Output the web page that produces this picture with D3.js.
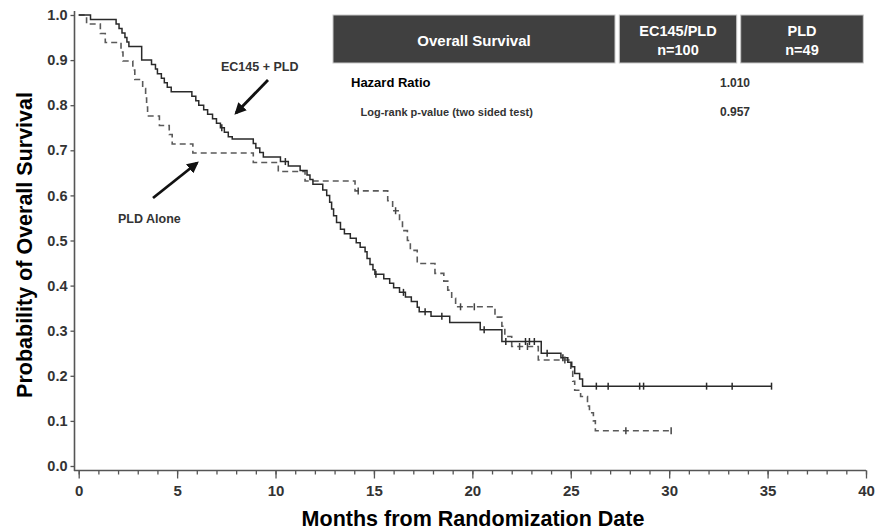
<!DOCTYPE html>
<html><head><meta charset="utf-8">
<script src="https://cdn.jsdelivr.net/npm/d3@7"></script>
<style>
html,body{margin:0;padding:0;background:#fff;}
svg{display:block;font-family:"Liberation Sans",Arial,Helvetica,sans-serif;}
</style></head>
<body><svg id="c" width="875" height="532"></svg>
<script>
// ---- data ----
const xTicks = [0,5,10,15,20,25,30,35,40];
const yTicks = [0,0.1,0.2,0.3,0.4,0.5,0.6,0.7,0.8,0.9,1.0];

// EC145 + PLD (solid), step times and survival after each step
const ecTimes = [0,0.6,1.9,2.05,2.2,2.35,2.45,2.55,3.2,3.7,3.9,4.0,4.2,4.35,4.5,4.7,5.75,5.95,6.1,6.35,6.55,6.8,7.0,7.2,7.4,7.6,7.8,8.87,9.0,9.2,9.38,10.25,10.65,11.25,11.6,11.75,11.9,12.4,12.6,12.75,12.85,12.95,13.1,13.3,13.5,13.8,14.1,14.3,14.55,14.65,14.8,14.95,15.05,15.5,15.8,16.0,16.3,16.6,16.9,17.2,17.3,17.9,18.85,20.4,21.5,23.5,24.5,24.85,25.05,25.2,25.45,25.6];
const ecSurv  = [1.0,0.99,0.98,0.97,0.96,0.95,0.94,0.93,0.90,0.89,0.88,0.87,0.86,0.85,0.84,0.83,0.82,0.81,0.80,0.79,0.78,0.77,0.76,0.75,0.74,0.73,0.725,0.715,0.705,0.695,0.685,0.675,0.665,0.655,0.645,0.635,0.625,0.612,0.60,0.585,0.57,0.555,0.54,0.525,0.515,0.505,0.495,0.485,0.475,0.46,0.447,0.435,0.425,0.415,0.405,0.395,0.385,0.375,0.365,0.352,0.342,0.332,0.318,0.302,0.276,0.25,0.24,0.23,0.22,0.205,0.193,0.177];
const ecEnd = 35.2;
const ecCensor = [7.27,10.5,15.1,16.5,17.6,18.45,20.6,21.7,22.7,22.9,23.15,23.8,24.6,26.3,26.9,28.5,28.7,31.9,33.2,35.2];

// PLD alone (dashed)
const pldTimes = [0,0.4,1.1,1.35,2.15,2.25,2.75,2.85,3.25,3.4,3.45,3.5,4.1,4.6,4.75,5.8,8.87,10.14,11.5,14.04,15.7,15.95,16.3,16.45,16.7,16.85,17.2,18.1,18.55,18.75,18.95,19.15,21.15,21.5,21.65,22.0,23.35,25.0,25.1,25.2,25.5,25.85,25.95,26.15,26.25];
const pldSurv  = [1.0,0.98,0.959,0.939,0.918,0.898,0.878,0.857,0.837,0.816,0.796,0.776,0.755,0.735,0.714,0.694,0.673,0.653,0.632,0.61,0.588,0.566,0.544,0.522,0.50,0.478,0.449,0.427,0.41,0.39,0.372,0.353,0.33,0.31,0.287,0.265,0.235,0.21,0.188,0.168,0.154,0.133,0.118,0.10,0.078];
const pldEnd = 30.1;
const pldCensor = [14.2,16.1,19.4,20.1,22.4,22.8,24.7,27.8,30.1];

const tableHeaders = [["Overall Survival"],["EC145/PLD","n=100"],["PLD","n=49"]];
const rowLabels = ["Hazard Ratio","Log-rank p-value (two sided test)"];
const rowValues = ["1.010","0.957"];

// ---- chart ----
const svg = d3.select("#c");
const x = d3.scaleLinear().domain([0,40]).range([78.7,866]);
const y = d3.scaleLinear().domain([0,1]).range([466,15]);
const axisColor = "#555";

// axes
const gy = svg.append("g").attr("transform","translate(74.5,0)")
  .call(d3.axisLeft(y).tickValues(yTicks).tickFormat(d3.format(".1f")).tickSize(4).tickPadding(3));
gy.select(".domain").remove();
svg.append("line").attr("x1",74.5).attr("x2",74.5).attr("y1",11).attr("y2",471)
  .attr("stroke",axisColor).attr("stroke-width",1.6);

const gxMinor = svg.append("g").attr("transform","translate(0,470.5)")
  .call(d3.axisBottom(x).tickValues(d3.range(0,41)).tickSize(4).tickFormat(""));
gxMinor.select(".domain").remove();
const gx = svg.append("g").attr("transform","translate(0,470.5)")
  .call(d3.axisBottom(x).tickValues(xTicks).tickSize(8).tickPadding(7));
gx.select(".domain").remove();
svg.append("line").attr("x1",74).attr("x2",866).attr("y1",470.5).attr("y2",470.5)
  .attr("stroke",axisColor).attr("stroke-width",1.6);

svg.selectAll(".tick line").attr("stroke",axisColor).attr("stroke-width",1.3);
gy.selectAll(".tick text").attr("font-size",14.5).attr("font-weight","bold").attr("fill","#333")
  .attr("font-family","Liberation Sans, Arial, sans-serif");
gx.selectAll(".tick text").attr("font-size",15).attr("font-weight","bold").attr("fill","#333")
  .attr("font-family","Liberation Sans, Arial, sans-serif");

// axis titles
svg.append("text").attr("x",473).attr("y",526).attr("text-anchor","middle")
  .attr("font-size",21.5).attr("font-weight","bold").attr("fill","#000")
  .text("Months from Randomization Date");
svg.append("text").attr("transform","translate(32,245) rotate(-90)").attr("text-anchor","middle")
  .attr("font-size",21.5).attr("font-weight","bold").attr("fill","#000")
  .text("Probability of Overall Survival");

// curves
function pts(times, surv, end){
  const p = times.map((t,i)=>[t,surv[i]]);
  p.push([end, surv[surv.length-1]]);
  return p;
}
function survAt(times, surv, t){
  let s = surv[0];
  for(let i=0;i<times.length;i++){ if(times[i]<=t) s=surv[i]; }
  return s;
}
const line = d3.line().x(d=>x(d[0])).y(d=>y(d[1])).curve(d3.curveStepAfter);

svg.append("path").datum(pts(pldTimes,pldSurv,pldEnd)).attr("d",line)
  .attr("fill","none").attr("stroke","#5a5a5a").attr("stroke-width",1.6).attr("stroke-dasharray","6,4");
svg.append("path").datum(pts(ecTimes,ecSurv,ecEnd)).attr("d",line)
  .attr("fill","none").attr("stroke","#2a2a2a").attr("stroke-width",1.5);

// censor marks
svg.selectAll(".cpld").data(pldCensor).enter().append("line")
  .attr("x1",d=>x(d)).attr("x2",d=>x(d))
  .attr("y1",d=>y(survAt(pldTimes,pldSurv,d))-3.5).attr("y2",d=>y(survAt(pldTimes,pldSurv,d))+3.5)
  .attr("stroke","#444").attr("stroke-width",1.5);
svg.selectAll(".cec").data(ecCensor).enter().append("line")
  .attr("x1",d=>x(d)).attr("x2",d=>x(d))
  .attr("y1",d=>y(survAt(ecTimes,ecSurv,d))-3.5).attr("y2",d=>y(survAt(ecTimes,ecSurv,d))+3.5)
  .attr("stroke","#2a2a2a").attr("stroke-width",1.5);

// annotations with arrows
const defs = svg.append("defs");
defs.append("marker").attr("id","ah").attr("viewBox","0 0 10 10").attr("refX",8).attr("refY",5)
  .attr("markerWidth",4.2).attr("markerHeight",4.2).attr("orient","auto")
  .append("path").attr("d","M0,0 L10,5 L0,10 z").attr("fill","#111");
svg.append("line").attr("x1",268).attr("y1",80).attr("x2",236).attr("y2",113)
  .attr("stroke","#111").attr("stroke-width",2.8).attr("marker-end","url(#ah)");
svg.append("line").attr("x1",153).attr("y1",198).attr("x2",197).attr("y2",163)
  .attr("stroke","#111").attr("stroke-width",2.8).attr("marker-end","url(#ah)");
svg.append("text").attr("x",221).attr("y",71).attr("font-size",12.5).attr("font-weight","bold")
  .attr("fill","#333").text("EC145 + PLD");
svg.append("text").attr("x",118).attr("y",223).attr("font-size",12.5).attr("font-weight","bold")
  .attr("fill","#333").text("PLD Alone");

// table
const boxes = [[333,615],[619.3,736.7],[740.7,863.3]];
boxes.forEach((b,i)=>{
  svg.append("rect").attr("x",b[0]).attr("y",15).attr("width",b[1]-b[0]).attr("height",48)
    .attr("fill","#404040").attr("stroke","#c8c8c8").attr("stroke-width",1);
  const lines = tableHeaders[i];
  const cx = (b[0]+b[1])/2;
  lines.forEach((t,j)=>{
    const yy = lines.length===1 ? 45.5 : 36 + j*19;
    svg.append("text").attr("x",cx).attr("y",yy).attr("text-anchor","middle")
      .attr("font-size",lines.length===1?15:14.5).attr("font-weight","bold").attr("fill","#fff").text(t);
  });
});
svg.append("text").attr("x",351).attr("y",87).attr("font-size",13).attr("font-weight","bold")
  .attr("fill","#000").text(rowLabels[0]);
svg.append("text").attr("x",360.5).attr("y",116).attr("font-size",11).attr("font-weight","bold")
  .attr("fill","#333").text(rowLabels[1]);
rowValues.forEach((v,i)=>{
  svg.append("text").attr("x",735).attr("y",i===0?87:116).attr("text-anchor","middle")
    .attr("font-size",12).attr("font-weight","bold").attr("fill","#333").text(v);
});
</script></body></html>
